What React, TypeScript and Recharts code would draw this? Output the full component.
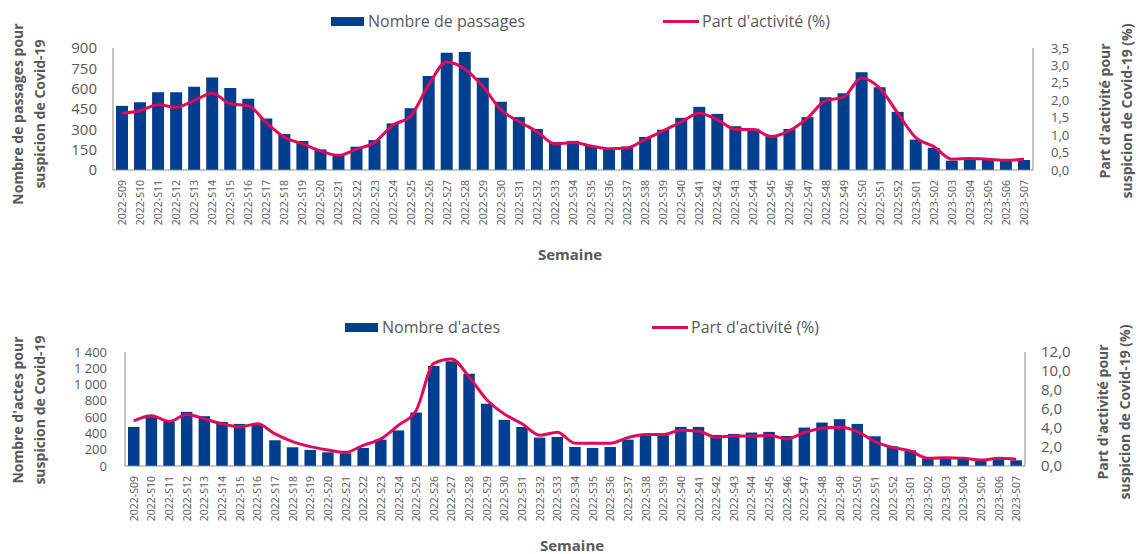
import { ComposedChart, Bar, Line, XAxis, YAxis } from "recharts";

const weeks = [
  "2022-S09", "2022-S10", "2022-S11", "2022-S12", "2022-S13", "2022-S14", "2022-S15", "2022-S16",
  "2022-S17", "2022-S18", "2022-S19", "2022-S20", "2022-S21", "2022-S22", "2022-S23", "2022-S24",
  "2022-S25", "2022-S26", "2022-S27", "2022-S28", "2022-S29", "2022-S30", "2022-S31", "2022-S32",
  "2022-S33", "2022-S34", "2022-S35", "2022-S36", "2022-S37", "2022-S38", "2022-S39", "2022-S40",
  "2022-S41", "2022-S42", "2022-S43", "2022-S44", "2022-S45", "2022-S46", "2022-S47", "2022-S48",
  "2022-S49", "2022-S50", "2022-S51", "2022-S52", "2023-S01", "2023-S02", "2023-S03", "2023-S04",
  "2023-S05", "2023-S06", "2023-S07",
];

// top chart: passages
const passages = [
  473, 500, 574, 574, 614, 683, 604, 525, 380, 265, 214, 152, 115, 172, 221, 344,
  456, 693, 865, 870, 680, 503, 390, 303, 207, 215, 178, 153, 173, 244, 298, 385,
  466, 414, 323, 305, 247, 303, 390, 537, 567, 722, 611, 429, 224, 163, 69, 79,
  74, 69, 74,
];
const partPassages = [
  1.63, 1.7, 1.87, 1.8, 1.99, 2.2, 1.9, 1.84, 1.36, 0.94, 0.75, 0.55, 0.42, 0.6, 0.79, 1.28,
  1.55, 2.44, 3.1, 2.9, 2.4, 1.73, 1.39, 1.1, 0.75, 0.79, 0.69, 0.61, 0.63, 0.88, 1.12, 1.38,
  1.63, 1.44, 1.17, 1.16, 0.96, 1.13, 1.49, 1.99, 2.09, 2.64, 2.35, 1.63, 0.93, 0.67, 0.31, 0.33,
  0.31, 0.28, 0.31,
];

// bottom chart: actes
const actes = [
  480, 600, 542, 665, 612, 542, 517, 505, 316, 230, 197, 168, 156, 222, 324, 437,
  657, 1227, 1285, 1133, 764, 567, 480, 349, 357, 234, 222, 234, 324, 378, 378, 480,
  480, 382, 394, 411, 419, 369, 472, 534, 575, 517, 365, 242, 193, 94, 94, 94,
  70, 90, 70,
];
const partActes = [
  4.75, 5.28, 4.68, 5.42, 4.96, 4.44, 4.12, 4.44, 3.38, 2.57, 2.04, 1.69, 1.44, 2.18, 2.85, 4.3,
  5.85, 10.8, 11.27, 9.37, 6.97, 5.46, 4.44, 3.24, 3.56, 2.39, 2.39, 2.39, 2.99, 3.31, 3.31, 3.77,
  3.66, 3.03, 3.17, 3.13, 3.24, 2.85, 3.52, 3.98, 4.08, 3.63, 2.57, 1.94, 1.58, 0.81, 0.88, 0.81,
  0.63, 0.81, 0.7,
];

const ticksPassages = [0, 150, 300, 450, 600, 750, 900];
const ticksPartPassages = [0, 0.5, 1, 1.5, 2, 2.5, 3, 3.5];
const ticksActes = [0, 200, 400, 600, 800, 1000, 1200, 1400];
const ticksPartActes = [0, 2, 4, 6, 8, 10, 12];

const topData = weeks.map((w, i) => ({ week: w, n: passages[i], part: partPassages[i] }));
const bottomData = weeks.map((w, i) => ({ week: w, n: actes[i], part: partActes[i] }));

const BLUE = "#003F8F";
const PINK = "#E2085A";
const GRAY = "#595959";
const AXIS = "#8C8C8C";
const FONT = "'Open Sans', sans-serif";

const XTick = (props: any) => {
  const { x, y, payload } = props;
  const ty = y + 2;
  return (
    <text
      x={x}
      y={ty}
      transform={`rotate(-90, ${x}, ${ty})`}
      textAnchor="end"
      dominantBaseline="central"
      fontSize={10.5}
      fontFamily={FONT}
      fill={GRAY}
    >
      {payload.value}
    </text>
  );
};

const fmtThousands = (v: number) => String(v).replace(/\B(?=(\d{3})+(?!\d))/g, "\u00a0");
const fmtDec = (v: number) => v.toFixed(1).replace(".", ",");

const tickStyle = { fontSize: 15, fill: GRAY, fontFamily: FONT };
const tickStyleSmall = { fontSize: 13, fill: GRAY, fontFamily: FONT };

const Title = ({ cx, cy, lines }: { cx: number; cy: number; lines: string[] }) => (
  <div
    style={{
      position: "absolute",
      left: cx,
      top: cy,
      transform: "translate(-50%, -50%) rotate(-90deg)",
      textAlign: "center",
      whiteSpace: "nowrap",
      fontFamily: FONT,
      fontWeight: 700,
      fontSize: 14,
      lineHeight: "22px",
      color: GRAY,
    }}
  >
    {lines.map((l) => (
      <div key={l}>{l}</div>
    ))}
  </div>
);

const LegendItems = ({ y, rectX, barLabel, lineX }: { y: number; rectX: number; barLabel: string; lineX: number }) => (
  <>
    <div style={{ position: "absolute", left: rectX, top: y - 4, width: 33, height: 9, background: BLUE }} />
    <div style={{ position: "absolute", left: rectX + 37, top: y - 11, fontFamily: FONT, fontSize: 16, color: GRAY, lineHeight: "22px", whiteSpace: "nowrap" }}>
      {barLabel}
    </div>
    <div style={{ position: "absolute", left: lineX, top: y - 1.5, width: 36, height: 3, background: PINK }} />
    <div style={{ position: "absolute", left: lineX + 39, top: y - 11, fontFamily: FONT, fontSize: 16, color: GRAY, lineHeight: "22px", whiteSpace: "nowrap" }}>
      Part d'activité (%)
    </div>
  </>
);

const Semaine = ({ cx, cy }: { cx: number; cy: number }) => (
  <div
    style={{
      position: "absolute",
      left: cx,
      top: cy,
      transform: "translate(-50%, -50%)",
      fontFamily: FONT,
      fontWeight: 700,
      fontSize: 15,
      lineHeight: "16px",
      color: GRAY,
    }}
  >
    Semaine
  </div>
);

export default function App() {
  return (
    <div style={{ position: "absolute", left: 0, top: 0, width: 1137, height: 554, background: "#fff", overflow: "hidden" }}>
      <div style={{ position: "absolute", left: 0, top: 0 }}>
        <ComposedChart width={1137} height={277} data={topData} margin={{ top: 48, right: 0, bottom: 0, left: 0 }}>
          <XAxis dataKey="week" interval={0} tick={<XTick />} tickLine={false} height={107} stroke={AXIS} />
          <YAxis yAxisId="l" width={113} domain={[0, 900]} ticks={ticksPassages} interval={0} tickLine={false} tickMargin={10} tick={tickStyle} stroke={AXIS} />
          <YAxis yAxisId="r" orientation="right" width={104} domain={[0, 3.5]} ticks={ticksPartPassages} interval={0} tickFormatter={fmtDec} tickLine={false} tickMargin={12} tick={tickStyleSmall} stroke={AXIS} />
          <Bar yAxisId="l" dataKey="n" fill={BLUE} barSize={12} isAnimationActive={false} />
          <Line yAxisId="r" dataKey="part" type="monotone" stroke={PINK} strokeWidth={3} dot={false} isAnimationActive={false} />
        </ComposedChart>
      </div>
      <div style={{ position: "absolute", left: 0, top: 277 }}>
        <ComposedChart width={1137} height={277} data={bottomData} margin={{ top: 75, right: 0, bottom: 0, left: 0 }}>
          <XAxis dataKey="week" interval={0} tick={<XTick />} tickLine={false} height={88} stroke={AXIS} />
          <YAxis yAxisId="l" width={125} domain={[0, 1400]} ticks={ticksActes} interval={0} tickFormatter={fmtThousands} tickLine={false} tickMargin={12} tick={tickStyleSmall} stroke={AXIS} />
          <YAxis yAxisId="r" orientation="right" width={112} domain={[0, 12]} ticks={ticksPartActes} interval={0} tickFormatter={fmtDec} tickLine={false} tickMargin={10} tick={tickStyle} stroke={AXIS} />
          <Bar yAxisId="l" dataKey="n" fill={BLUE} barSize={11.5} isAnimationActive={false} />
          <Line yAxisId="r" dataKey="part" type="monotone" stroke={PINK} strokeWidth={3} dot={false} isAnimationActive={false} />
        </ComposedChart>
      </div>

      <LegendItems y={21} rectX={331} barLabel="Nombre de passages" lineX={663} />
      <LegendItems y={327} rectX={345} barLabel="Nombre d'actes" lineX={652} />

      <Title cx={29} cy={114} lines={["Nombre de passages pour", "suspicion de Covid-19"]} />
      <Title cx={1116} cy={111} lines={["Part d'activité pour", "suspicion de Covid-19 (%)"]} />
      <Title cx={29} cy={410} lines={["Nombre d'actes pour", "suspicion de Covid-19"]} />
      <Title cx={1114} cy={412} lines={["Part d'activité pour", "suspicion de Covid-19 (%)"]} />

      <Semaine cx={570} cy={254} />
      <Semaine cx={572} cy={545} />
    </div>
  );
}
